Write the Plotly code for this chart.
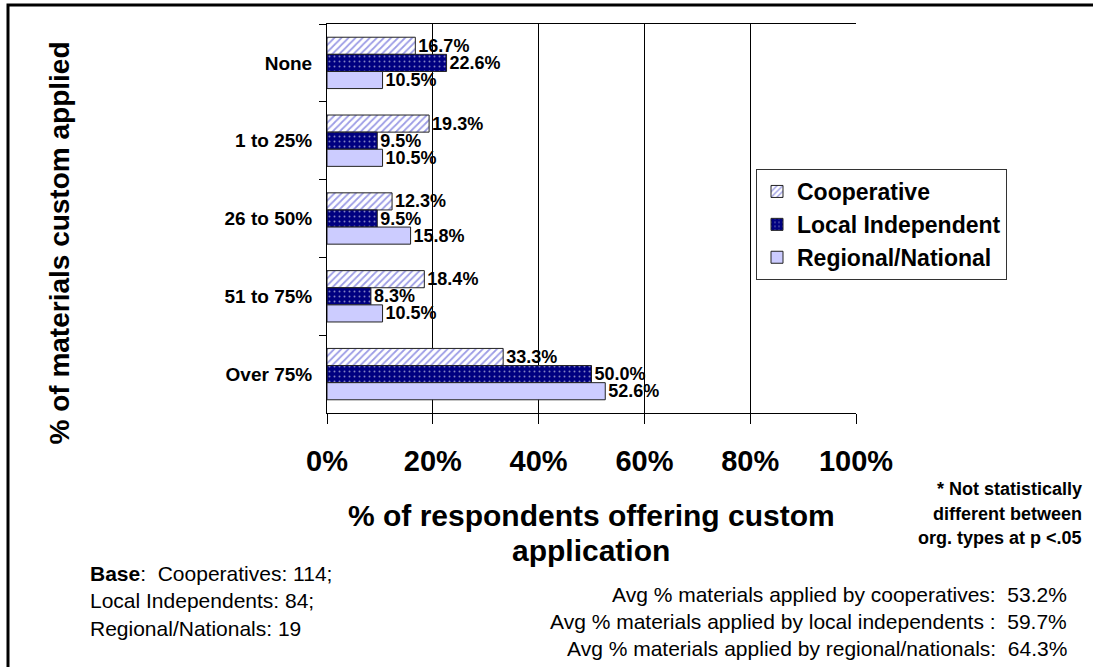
import plotly.graph_objects as go

categories = ["None", "1 to 25%", "26 to 50%", "51 to 75%", "Over 75%"]
cooperative = [16.7, 19.3, 12.3, 18.4, 33.3]
local_independent = [22.6, 9.5, 9.5, 8.3, 50.0]
regional_national = [10.5, 10.5, 15.8, 10.5, 52.6]
x_ticks = [0, 20, 40, 60, 80, 100]

note_lines = ["* Not statistically", "different between", "org. types at p <.05"]
base_lines = ["<b>Base</b>:  Cooperatives: 114;", "Local Independents: 84;", "Regional/Nationals: 19"]
avg_lines = [
    "Avg % materials applied by cooperatives:  53.2%",
    "Avg % materials applied by local independents :  59.7%",
    "Avg % materials applied by regional/nationals:  64.3%",
]

FONT = "Liberation Sans, Arial, sans-serif"

# plot area in pixels
W, H = 1093, 667
L, R, T, B = 327, 856, 24, 413

label_font = dict(family=FONT, size=18, color="black", weight="bold")

fig = go.Figure()
fig.add_trace(go.Bar(
    name="Cooperative", y=categories, x=cooperative, orientation="h",
    marker=dict(color="white", line=dict(color="#222222", width=1),
                pattern=dict(shape="/", fgcolor="#3a3acc", bgcolor="white",
                             size=5, solidity=0.35)),
    texttemplate="%{x:.1f}%", textposition="outside", textfont=label_font,
    constraintext="none", cliponaxis=False,
))
fig.add_trace(go.Bar(
    name="Local Independent", y=categories, x=local_independent, orientation="h",
    marker=dict(color="#000080", line=dict(color="#222222", width=1),
                pattern=dict(shape=".", fgcolor="white", bgcolor="#000080",
                             size=5, solidity=0.12)),
    texttemplate="%{x:.1f}%", textposition="outside", textfont=label_font,
    constraintext="none", cliponaxis=False,
))
fig.add_trace(go.Bar(
    name="Regional/National", y=categories, x=regional_national, orientation="h",
    marker=dict(color="#CCCCFF", line=dict(color="#222222", width=1)),
    texttemplate="%{x:.1f}%", textposition="outside", textfont=label_font,
    constraintext="none", cliponaxis=False,
))


def px(x):
    return (x - L) / (R - L)


def py(y):
    return (B - y) / (B - T)


def text_block(lines, x, y0, step, xanchor, size, bold=False):
    out = []
    for i, line in enumerate(lines):
        out.append(dict(text=line, x=px(x), y=py(y0 + i * step),
                        xref="paper", yref="paper", xanchor=xanchor, yanchor="middle",
                        showarrow=False,
                        font=dict(family=FONT, size=size, color="black",
                                  weight="bold" if bold else "normal")))
    return out


annotations = [
    dict(text="% of materials custom applied", textangle=-90,
         x=px(41), y=py(243), xref="paper", yref="paper",
         showarrow=False, font=dict(family=FONT, size=28, color="black", weight="bold")),
]
annotations += text_block(["% of respondents offering custom", "application"],
                          591, 515, 35, "center", 30, bold=True)
annotations += text_block(note_lines, 1084, 489, 24.5, "right", 18, bold=True)
annotations += text_block(base_lines, 88, 573, 27.5, "left", 21)
annotations += text_block(avg_lines, 1069, 594, 27, "right", 21)

shapes = [
    # outer chart frame
    dict(type="rect", xref="paper", yref="paper",
         x0=px(8), x1=px(1110), y0=py(690), y1=py(5),
         line=dict(color="black", width=3), fillcolor="rgba(0,0,0,0)", layer="below"),
]

fig.update_layout(
    width=W, height=H,
    margin=dict(l=L, r=W - R, t=T, b=H - B),
    paper_bgcolor="white", plot_bgcolor="white",
    barmode="group", bargap=0.34, bargroupgap=0,
    showlegend=True,
    legend=dict(x=px(756), y=py(169), xanchor="left", yanchor="top",
                bgcolor="white", bordercolor="#333333", borderwidth=1,
                font=dict(family=FONT, size=23, color="black", weight="bold"),
                traceorder="normal", itemwidth=30, tracegroupgap=0),
    xaxis=dict(range=[0, 100], tickvals=x_ticks, ticktext=[f"{v}%" for v in x_ticks],
               showgrid=True, gridcolor="black", gridwidth=1,
               showline=True, linecolor="black", linewidth=1, mirror=True,
               ticks="outside", ticklen=10, tickcolor="black",
               ticklabelstandoff=12, zeroline=False,
               tickfont=dict(family=FONT, size=29, color="black", weight="bold")),
    yaxis=dict(autorange="reversed", showgrid=False,
               showline=True, linecolor="black", linewidth=1,
               ticks="outside", ticklen=7, tickcolor="black", tickson="boundaries",
               ticklabelstandoff=10,
               tickfont=dict(family=FONT, size=19, color="black", weight="bold")),
    annotations=annotations, shapes=shapes,
)

fig.write_html("out.html")
